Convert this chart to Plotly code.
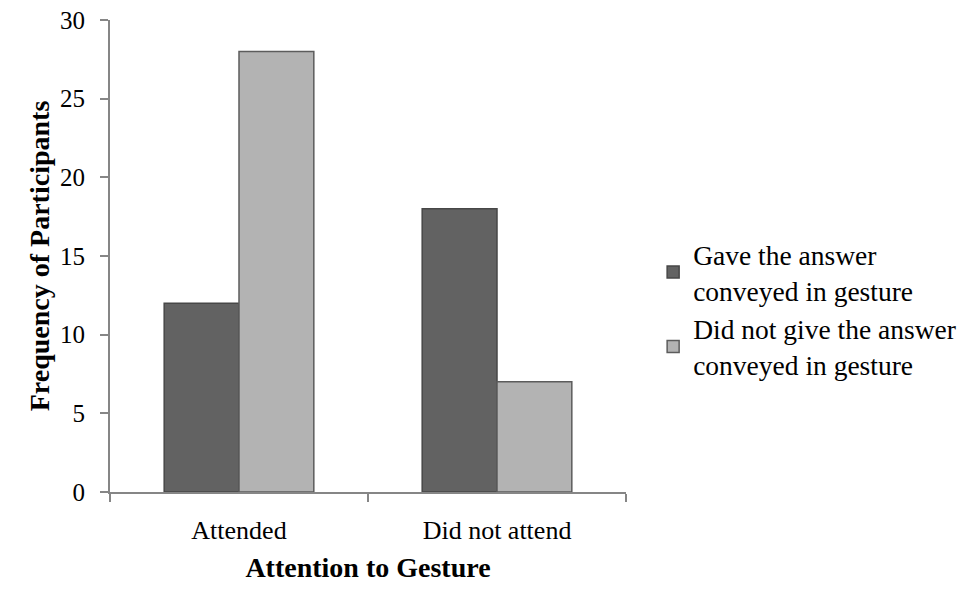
import plotly.graph_objects as go

# Data
categories = ["Attended", "Did not attend"]
gave_answer = [12, 18]
did_not_give = [28, 7]
series_names = ["Gave the answer<br>conveyed in gesture",
                "Did not give the answer<br>conveyed in gesture"]
y_ticks = [0, 5, 10, 15, 20, 25, 30]

AXIS_GREY = "#868686"
FONT = "Liberation Serif"

fig = go.Figure()
fig.add_trace(go.Bar(
    x=categories, y=gave_answer, name=series_names[0],
    marker=dict(color="#626262", line=dict(color="#474747", width=1.5)),
))
fig.add_trace(go.Bar(
    x=categories, y=did_not_give, name=series_names[1],
    marker=dict(color="#b3b3b3", line=dict(color="#5c5c5c", width=1.5)),
))

# page adds an 8px body margin, so margins are shifted to compensate
fig.update_layout(
    width=976, height=599,
    margin=dict(l=102, r=358, t=12, b=115, autoexpand=False),
    paper_bgcolor="white", plot_bgcolor="white",
    font=dict(family=FONT, color="black", size=25),
    barmode="group", bargap=0.42, bargroupgap=0,
    showlegend=True,
    legend=dict(
        xref="container", yref="container",
        x=0.661, y=0.497, xanchor="left", yanchor="middle",
        font=dict(family=FONT, size=27.5, color="black"),
        itemwidth=30, tracegroupgap=12,
        bgcolor="rgba(0,0,0,0)",
    ),
)

fig.update_xaxes(
    showline=True, linecolor=AXIS_GREY, linewidth=2,
    ticks="outside", tickson="boundaries", ticklen=8, tickwidth=2, tickcolor=AXIS_GREY,
    tickfont=dict(size=26), ticklabelstandoff=14,
    title=dict(text="<b>Attention to Gesture</b>", font=dict(size=28), standoff=13),
    showgrid=False, zeroline=False, automargin=False,
)
fig.update_yaxes(
    range=[0, 30], tickvals=y_ticks,
    showline=True, linecolor=AXIS_GREY, linewidth=2,
    ticks="outside", ticklen=8, tickwidth=2, tickcolor=AXIS_GREY,
    ticklabelstandoff=10, ticklabeloverflow="allow",
    title=dict(text="<b>Frequency of Participants</b>", font=dict(size=28), standoff=2),
    showgrid=False, zeroline=False, automargin=False,
)

fig.write_html("out.html")
